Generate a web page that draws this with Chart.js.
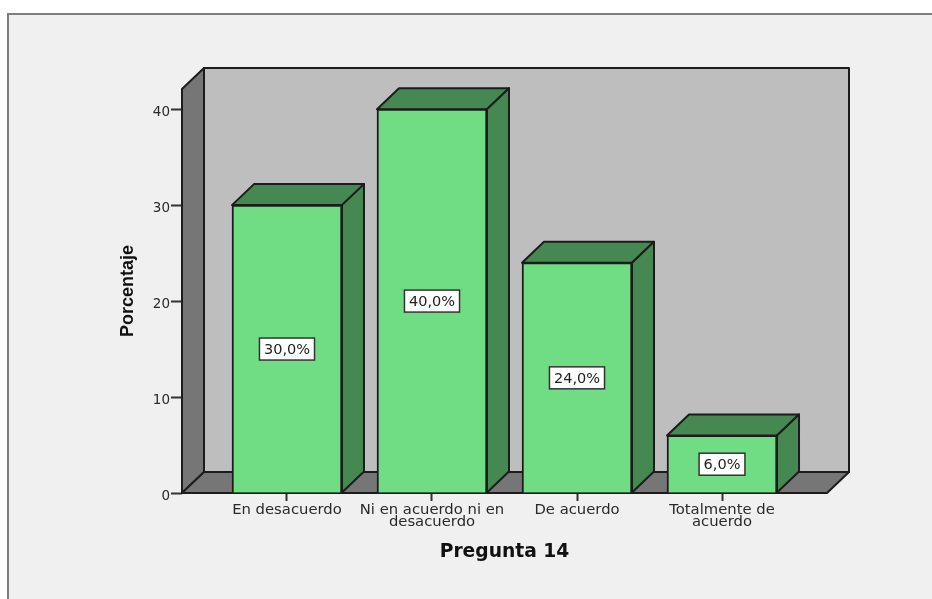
<!DOCTYPE html>
<html>
<head>
<meta charset="utf-8">
<script src="https://cdn.jsdelivr.net/npm/chart.js@4"></script>
<style>
html,body{margin:0;padding:0;background:#fff;width:932px;height:599px;overflow:hidden}
#panel{position:absolute;left:7px;top:13px;width:1000px;height:700px;background:#f0f0f0;border:2px solid #7d7d7d;box-sizing:border-box}
canvas{position:absolute;left:0;top:0}
</style>
</head>
<body>
<div id="panel"></div>
<canvas id="c" width="932" height="599"></canvas>
<script>
const categories = [['En desacuerdo'], ['Ni en acuerdo ni en', 'desacuerdo'], ['De acuerdo'], ['Totalmente de', 'acuerdo']];
const percentages = [30, 40, 24, 6];
const yTicks = [0, 10, 20, 30, 40];
const yTitle = 'Porcentaje';
const xTitle = 'Pregunta 14';

const DX = 22, DY = 21;
const LINE = '#1c1c1c';
const poly = (ctx, pts, fill) => {
  ctx.beginPath();
  pts.forEach((p, i) => i ? ctx.lineTo(p[0], p[1]) : ctx.moveTo(p[0], p[1]));
  ctx.closePath();
  ctx.fillStyle = fill;
  ctx.fill();
  ctx.stroke();
};

const box3d = {
  id: 'box3d',
  beforeDatasetsDraw(chart) {
    const ctx = chart.ctx, a = chart.chartArea;
    ctx.save();
    ctx.strokeStyle = LINE;
    ctx.lineWidth = 2;
    ctx.lineJoin = 'round';
    poly(ctx, [[a.left + DX, a.top - DY], [a.right + DX, a.top - DY], [a.right + DX, a.bottom - DY], [a.left + DX, a.bottom - DY]], '#bebebe');
    poly(ctx, [[a.left, a.bottom], [a.left + DX, a.bottom - DY], [a.left + DX, a.top - DY], [a.left, a.top]], '#767676');
    poly(ctx, [[a.left, a.bottom], [a.right, a.bottom], [a.right + DX, a.bottom - DY], [a.left + DX, a.bottom - DY]], '#767676');
    chart.getDatasetMeta(0).data.forEach(b => {
      const x0 = b.x - b.width / 2, x1 = b.x + b.width / 2;
      poly(ctx, [[x0, b.y], [x0 + DX, b.y - DY], [x1 + DX, b.y - DY], [x1, b.y]], '#458852');
      poly(ctx, [[x1, b.y], [x1 + DX, b.y - DY], [x1 + DX, b.base - DY], [x1, b.base]], '#458852');
    });
    ctx.restore();
  },
  afterDatasetsDraw(chart) {
    const ctx = chart.ctx, ys = chart.scales.y;
    ctx.save();
    ctx.font = '14.5px "DejaVu Sans", sans-serif';
    ctx.textAlign = 'center';
    ctx.textBaseline = 'middle';
    chart.getDatasetMeta(0).data.forEach((b, i) => {
      const v = percentages[i];
      const text = v.toFixed(1).replace('.', ',') + '%';
      const cy = ys.getPixelForValue(v / 2);
      const w = ctx.measureText(text).width + 9;
      ctx.fillStyle = '#fff';
      ctx.strokeStyle = '#333';
      ctx.lineWidth = 1.5;
      ctx.fillRect(b.x - w / 2, cy - 11, w, 22);
      ctx.strokeRect(b.x - w / 2, cy - 11, w, 22);
      ctx.fillStyle = '#222';
      ctx.fillText(text, b.x, cy + 1);
    });
    ctx.restore();
  }
};

new Chart(document.getElementById('c'), {
  type: 'bar',
  plugins: [box3d],
  data: {
    datasets: [{
      data: percentages.map((v, i) => ({ x: i, y: v })),
      backgroundColor: '#70dd85',
      borderColor: LINE,
      borderWidth: 2,
      barThickness: 110
    }]
  },
  options: {
    responsive: false,
    animation: false,
    layout: { padding: { left: 117, right: 105, top: 89, bottom: 36 } },
    plugins: { legend: { display: false }, tooltip: { enabled: false } },
    scales: {
      x: {
        type: 'linear',
        offset: false,
        min: -0.724,
        max: 3.724,
        afterBuildTicks: s => { s.ticks = categories.map((c, i) => ({ value: i })); },
        afterFit: s => { s.height = 70; },
        border: { display: false },
        grid: { offset: false, drawOnChartArea: false, drawTicks: true, tickLength: 8, tickWidth: 2, color: '#333' },
        ticks: {
          autoSkip: false,
          maxRotation: 0,
          padding: 3,
          color: '#2a2a2a',
          font: { family: '"DejaVu Sans", sans-serif', size: 14.8, lineHeight: '12.3px' },
          callback: v => categories[v]
        },
        title: {
          display: true,
          text: xTitle,
          color: '#111',
          padding: 0,
          font: { family: '"DejaVu Sans", sans-serif', size: 18.7, weight: 'bold' }
        }
      },
      y: {
        min: 0,
        max: 42.1,
        afterBuildTicks: s => { s.ticks = yTicks.map(v => ({ value: v })); },
        afterFit: s => { s.width = 65; },
        border: { display: false },
        grid: { drawOnChartArea: false, drawTicks: true, tickLength: 11, tickWidth: 2, color: '#333' },
        ticks: {
          padding: 1,
          color: '#2a2a2a',
          font: { family: '"DejaVu Sans", sans-serif', size: 13.5, lineHeight: '6px' },
          callback: v => ['', String(v)]
        },
        title: {
          display: true,
          text: yTitle,
          color: '#111',
          padding: 0,
          font: { family: '"Liberation Sans", Arial, sans-serif', size: 18, weight: 'bold' }
        }
      }
    }
  }
});
</script>
</body>
</html>
